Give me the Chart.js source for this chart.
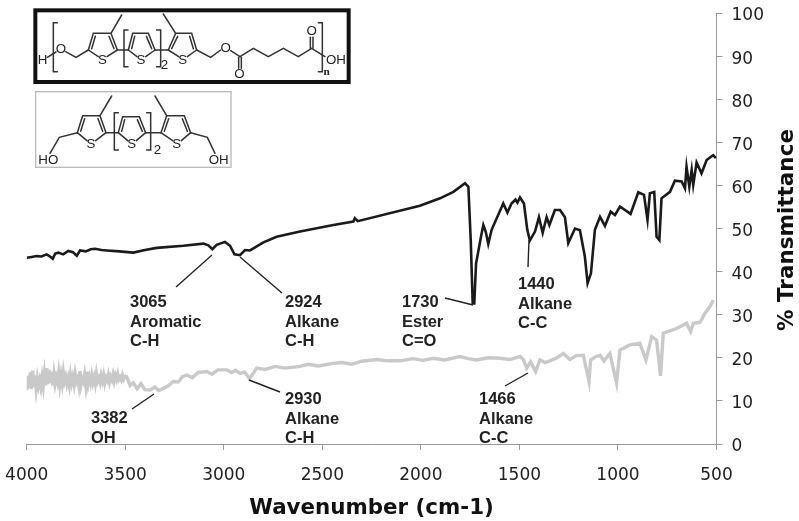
<!DOCTYPE html>
<html>
<head>
<meta charset="utf-8">
<title>FTIR spectra</title>
<script src="https://cdn.jsdelivr.net/npm/chart.js@4"></script>
<style>
html, body { margin: 0; padding: 0; background: #fff; }
canvas { display: block; }
</style>
</head>
<body>
<canvas id="ftir" width="799" height="521"></canvas>
<script>
// polymer trace
const polymerWave = [4000,3975,3950,3925,3899,3885,3868,3855,3839,3815,3789,3765,3746,3729,3700,3675,3653,3620,3594,3530,3459,3400,3340,3205,3104,3078,3058,3036,2994,2968,2946,2918,2892,2867,2799,2732,2613,2444,2343,2335,2320,2005,1903,1835,1776,1759,1747,1737,1729,1720,1709,1695,1683,1671,1658,1641,1582,1561,1540,1520,1510,1497,1477,1460,1447,1421,1401,1382,1362,1348,1320,1294,1269,1252,1218,1193,1168,1154,1137,1117,1091,1066,1037,1015,990,936,897,868,850,838,816,804,790,779,736,711,677,660,652,638,626,618,601,576,550,517,503];
const polymerT = [43.2,43.4,43.6,43.5,44.0,43.6,43.0,44.2,44.4,44.0,44.8,44.5,43.7,44.9,44.7,45.2,45.3,45.0,44.9,44.7,44.4,45.0,45.5,46.0,46.5,46.1,45.2,46.2,46.9,46.0,44.0,43.8,45.0,44.9,46.8,48.1,49.3,50.8,51.6,52.4,51.7,55.3,57.0,58.5,60.5,59.7,47.3,32.6,32.6,41.9,44.6,48.1,50.8,49.3,46.4,49.7,55.8,53.7,55.8,56.7,56.0,57.2,55.8,49.7,47.2,49.3,52.6,49.0,52.6,50.8,54.3,54.3,52.6,46.6,50.0,49.6,43.5,37.3,39.6,49.7,52.7,50.6,53.9,53.1,55.1,53.4,58.4,57.8,52.0,58.2,58.5,48.1,47.3,57.0,58.5,61.1,60.9,59.3,64.3,59.7,63.6,60.1,65.3,62.8,65.9,67.0,66.3];

// monomer trace, the noisy band below 3500 is read as a zigzag
const monomerWave = [4000,3994,3988,3982,3976,3970,3964,3958,3952,3946,3940,3934,3928,3922,3916,3910,3904,3898,3892,3886,3880,3874,3868,3862,3856,3850,3844,3838,3832,3826,3820,3814,3808,3802,3796,3790,3784,3778,3772,3766,3760,3754,3748,3742,3736,3730,3724,3718,3712,3706,3700,3694,3688,3682,3676,3670,3664,3658,3652,3646,3640,3634,3628,3622,3616,3610,3604,3598,3592,3586,3580,3574,3568,3562,3556,3550,3544,3538,3532,3526,3520,3514,3508,3502,3493,3475,3459,3440,3420,3400,3374,3350,3330,3307,3285,3256,3230,3210,3188,3160,3130,3087,3060,3030,2985,2960,2940,2918,2895,2870,2850,2833,2790,2740,2690,2613,2570,2520,2444,2400,2350,2300,2224,2170,2106,2040,1990,1937,1880,1802,1760,1717,1660,1599,1550,1497,1480,1463,1443,1418,1396,1370,1345,1310,1277,1244,1210,1176,1147,1139,1115,1091,1071,1041,1007,990,939,889,858,829,804,784,770,703,652,631,618,584,559,533,516];
const monomerT = [12.5,15.8,13,16.6,12.8,17,13.2,15.9,12.9,15.2,13.5,14.8,13.2,15.4,13.4,16.2,13.6,17.6,13.9,17.2,14.2,16.8,13.6,16.2,14,15.5,14.4,16.5,13.8,15.9,14.1,16.6,14.6,15.6,14,15.3,13.7,16,14.2,15.5,13.9,16.2,14.5,15.2,13.6,16.9,13.8,15.1,14.4,16.1,13.7,16.8,14,15.4,14.2,15.9,14.3,15.5,14,16.2,14.6,15.3,14.3,15.9,14.7,16,14.2,15.4,14.8,16,14.4,15.6,14.9,16.1,14.6,15.9,15,16.2,15,15.5,14.9,16,15.1,15.7,15.6,13.6,14.2,12.8,14,12.6,12.5,13.2,12.4,12.9,13.4,14.5,14.4,15.6,16,15.4,16.6,16.8,16.2,17.2,17.2,16.6,17.1,16.4,16.7,15.2,16.4,17.6,17.3,18,17.6,18,18.5,18.1,18.7,18.9,18.5,19.2,19.6,19.3,19.3,19.8,19.4,19.9,19.5,20.3,19.8,19.5,20,19.9,19.6,20.3,19.6,17.6,19.1,16.8,19.5,18.9,19.3,20,21,19.6,20.5,20.6,14.5,19.5,20.2,20.6,19.3,21,14.1,21.8,23,23.4,19.5,24.9,24.1,15.8,25.7,26.8,28,26.1,28,28.2,30.3,31.9,33.4];

const xTicks = [4000,3500,3000,2500,2000,1500,1000,500];
const yTicks = [0,10,20,30,40,50,60,70,80,90,100];
const peakNotes = [
    ["3065","Aromatic","C-H"],
    ["2924","Alkane","C-H"],
    ["1730","Ester","C=O"],
    ["1440","Alkane","C-C"],
    ["3382","OH"],
    ["2930","Alkane","C-H"],
    ["1466","Alkane","C-C"]
];

const toPoints = (xs, ys) => xs.map((x, i) => ({x: x, y: ys[i]}));

// text block corner and leader line for each entry of peakNotes
const notePlaces = [
    {x: 130, y: 307, line: [212,255,176,287]},
    {x: 285, y: 307, line: [240,257,282,293]},
    {x: 402, y: 307, line: [473,305,445,298]},
    {x: 518, y: 289, line: [529,240,528,267]},
    {x: 91,  y: 423, line: [154,394,132,409]},
    {x: 285, y: 404, line: [249,380,280,392]},
    {x: 479, y: 404, line: [528,373,505,386]}
];

function drawNotes(ctx) {
    ctx.font = "bold 16.5px 'Liberation Sans'";
    ctx.fillStyle = "#222";
    ctx.strokeStyle = "#222";
    ctx.lineWidth = 1.4;
    ctx.textAlign = "left";
    ctx.textBaseline = "alphabetic";
    peakNotes.forEach((lines, i) => {
        const p = notePlaces[i];
        lines.forEach((t, j) => ctx.fillText(t, p.x, p.y + j * 19.5));
        ctx.beginPath();
        ctx.moveTo(p.line[0], p.line[1]);
        ctx.lineTo(p.line[2], p.line[3]);
        ctx.stroke();
    });
}

// molecule sketches, in 3x coordinates
function seg(ctx, pts) {
    ctx.beginPath();
    ctx.moveTo(pts[0], pts[1]);
    for (let i = 2; i < pts.length; i += 2) ctx.lineTo(pts[i], pts[i + 1]);
    ctx.stroke();
}

function ring(ctx, a, b, c, d, sx, sy) {
    seg(ctx, [a[0],a[1],b[0],b[1],c[0],c[1],d[0],d[1]]);
    seg(ctx, [a[0],a[1],sx-12,sy-10]);
    seg(ctx, [d[0],d[1],sx+14,sy-10]);
    seg(ctx, [a[0]+10,a[1]-4,b[0]+6,b[1]+9]);
    seg(ctx, [c[0]-6,c[1]+9,d[0]-10,d[1]-4]);
    ctx.fillText("S", sx, sy + 12);
}

function drawMolecules(ctx) {
    ctx.save();
    ctx.scale(1/3, 1/3);
    ctx.lineCap = "round";
    ctx.fillStyle = "#222";
    ctx.textAlign = "center";
    ctx.textBaseline = "alphabetic";

    ctx.strokeStyle = "#111";
    ctx.lineWidth = 12;
    ctx.strokeRect(106, 31, 940, 215);
    ctx.strokeStyle = "#bbb";
    ctx.lineWidth = 4;
    ctx.strokeRect(107, 275, 586, 227);

    ctx.strokeStyle = "#333";
    ctx.lineWidth = 4.5;
    ctx.font = "40px 'Liberation Sans'";

    // polymer
    seg(ctx, [172,68,160,68,160,215,172,215]);
    ctx.fillText("H", 128, 193);
    ctx.fillText("O", 183, 160);
    seg(ctx, [142,172,168,156]);
    seg(ctx, [197,155,228,172,265,150]);
    ring(ctx, [265,150], [280,100], [333,100], [352,150], 307, 180);
    seg(ctx, [333,100,365,45]);
    seg(ctx, [352,150,385,150]);
    seg(ctx, [384,90,372,90,372,200,384,200]);
    ring(ctx, [385,150], [398,100], [445,100], [465,150], 423, 180);
    seg(ctx, [465,150,505,150]);
    seg(ctx, [470,90,482,90,482,200,470,200]);
    ctx.fillText("2", 493, 207);
    ring(ctx, [505,150], [527,100], [575,100], [590,150], 548, 180);
    seg(ctx, [527,100,490,42]);
    seg(ctx, [590,150,632,172,662,150]);
    ctx.fillText("O", 677, 157);
    seg(ctx, [692,152,720,170,760,145,805,170,850,145,895,170,935,145,975,170]);
    seg(ctx, [716,172,716,205]);
    seg(ctx, [724,172,724,205]);
    ctx.fillText("O", 718, 234);
    seg(ctx, [931,145,931,112]);
    seg(ctx, [939,145,939,112]);
    ctx.fillText("O", 935, 106);
    seg(ctx, [955,68,967,68,967,215,955,215]);
    ctx.fillText("OH", 1008, 191);
    ctx.font = "bold 34px 'Liberation Serif'";
    ctx.fillText("n", 980, 226);

    // monomer
    ctx.font = "40px 'Liberation Sans'";
    seg(ctx, [232,398,178,412,150,460]);
    ring(ctx, [232,398], [248,347], [300,347], [318,398], 273, 432);
    seg(ctx, [300,347,335,288]);
    seg(ctx, [318,398,355,398]);
    seg(ctx, [355,338,343,338,343,450,355,450]);
    ring(ctx, [355,398], [368,350], [418,350], [437,398], 395, 432);
    seg(ctx, [437,398,483,398]);
    seg(ctx, [440,338,452,338,452,450,440,450]);
    ctx.fillText("2", 472, 463);
    ring(ctx, [483,398], [500,347], [553,347], [572,398], 530, 432);
    seg(ctx, [500,347,465,288]);
    seg(ctx, [572,398,622,412,645,460]);
    ctx.fillText("HO", 145, 491);
    ctx.fillText("OH", 656, 491);
    ctx.restore();
}

const overlay = {
    id: "overlay",
    afterDraw(chart) {
        const ctx = chart.ctx;
        ctx.save();
        drawMolecules(ctx);
        drawNotes(ctx);
        // Chart.js turns a right-hand title clockwise, this one reads upward
        ctx.translate(787, 230);
        ctx.rotate(-Math.PI / 2);
        ctx.font = "bold 21.5px 'DejaVu Sans'";
        ctx.fillStyle = "#111";
        ctx.textAlign = "center";
        ctx.textBaseline = "middle";
        ctx.fillText("% Transmittance", 0, 0);
        ctx.restore();
    }
};

const config = {
    type: 'line',
    data: {
        datasets: [{
            label: "Polymer",
            data: toPoints(polymerWave, polymerT),
            borderColor: "#1a1a1a",
            borderWidth: 2.6,
            pointRadius: 0,
            tension: 0
        }, {
            label: "Monomer",
            data: toPoints(monomerWave, monomerT),
            borderColor: "#c9c9c9",
            borderWidth: 3.4,
            pointRadius: 0,
            tension: 0
        }]
    },
    options: {
        responsive: false,
        animation: false,
        layout: { padding: { left: 26.7, top: 13, right: 0, bottom: 0 } },
        plugins: { legend: { display: false }, tooltip: { enabled: false } },
        scales: {
            x: {
                type: 'linear',
                reverse: true,
                min: 500,
                max: 4000,
                afterFit(scale) {
                    scale.height = 77;
                    scale.paddingLeft = 0;
                    scale.paddingRight = 0;
                },
                afterBuildTicks(scale) { scale.ticks = xTicks.map(v => ({value: v})); },
                grid: { drawOnChartArea: false, color: "#999", tickLength: 6 },
                border: { color: "#999" },
                ticks: {
                    color: "#222",
                    maxRotation: 0,
                    padding: 15,
                    font: { family: "'DejaVu Sans'", size: 17 },
                    callback: v => String(v)
                },
                title: {
                    display: true,
                    text: "Wavenumber (cm-1)",
                    color: "#111",
                    padding: { top: 6, bottom: 0 },
                    font: { family: "'DejaVu Sans'", size: 21.4, weight: "bold" }
                }
            },
            y: {
                position: 'right',
                min: 0,
                max: 100,
                afterFit(scale) {
                    scale.width = 82.5;
                    scale.paddingTop = 0;
                    scale.paddingBottom = 0;
                },
                afterBuildTicks(scale) { scale.ticks = yTicks.map(v => ({value: v})); },
                grid: { drawOnChartArea: false, color: "#999", tickLength: 6 },
                border: { color: "#999" },
                ticks: { color: "#222", padding: 9, labelOffset: 3, font: { family: "'DejaVu Sans'", size: 17 } }
            }
        }
    },
    plugins: [overlay]
};

const ftirChart = new Chart(document.getElementById('ftir'), config);
</script>
</body>
</html>
